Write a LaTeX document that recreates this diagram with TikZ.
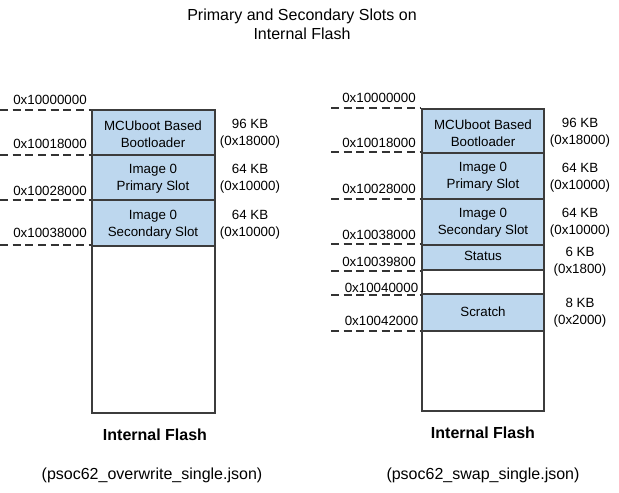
\documentclass[tikz,border=0pt]{standalone}
\usepackage{fontspec}
\setmainfont{Liberation Sans}
\definecolor{slotblue}{RGB}{189,215,238}
\definecolor{edgegray}{RGB}{60,60,60}
\begin{document}
\begin{tikzpicture}[x=0.75pt,y=-0.75pt,
  small/.style={font=\fontsize{10}{12.75}\selectfont, inner sep=0pt, align=center, text=black},
  large/.style={font=\fontsize{12}{14.25}\selectfont, inner sep=0pt, align=center, text=black},
  heading/.style={large, font=\fontsize{12}{14.25}\selectfont\bfseries},
  slot/.style={draw=edgegray, fill=slotblue, line width=0.9pt},
  freearea/.style={draw=edgegray, fill=white, line width=0.9pt},
  boundary/.style={draw=black!80, line width=1.1pt, dash pattern=on 6pt off 3.5pt}
]
\useasboundingbox (0,0) rectangle (619,493);

% title
\node[large] (title) at (302,24) {Primary and Secondary Slots on\\Internal Flash};

% ---------- overwrite layout ----------
\draw[slot] (92,110) rectangle (215,155);
\draw[slot] (92,155) rectangle (215,200);
\draw[slot] (92,200) rectangle (215,246);
\draw[freearea] (92,246) rectangle (215,413);

\foreach \y in {110,155,200,245}
  \draw[boundary] (0,\y) -- (91,\y);

\node[small] (la0) at (50,99.5)  {0x10000000};
\node[small] (la1) at (50,143.5) {0x10018000};
\node[small] (la2) at (50,190.5) {0x10028000};
\node[small] (la3) at (50,232.5) {0x10038000};

\node[small] (lboot) at (153,134) {MCUboot Based\\Bootloader};
\node[small] (lprim) at (153,179) {Image 0\\Primary Slot};
\node[small] (lsec)  at (153,225) {Image 0\\Secondary Slot};

\node[small] (ls0) at (250,134) {96 KB\\(0x18000)};
\node[small] (ls1) at (250,179) {64 KB\\(0x10000)};
\node[small] (ls2) at (250,225) {64 KB\\(0x10000)};

\node[heading] (lflash) at (155,435) {Internal Flash};
\node[large] (ljson) at (152,475) {(psoc62\_overwrite\_single.json)};

% ---------- swap layout ----------
\draw[slot] (422,109) rectangle (544,153);
\draw[slot] (422,153) rectangle (544,199);
\draw[slot] (422,199) rectangle (544,245);
\draw[slot] (422,245) rectangle (544,270);
\draw[freearea] (422,270) rectangle (544,294);
\draw[slot] (422,294) rectangle (544,331);
\draw[freearea] (422,331) rectangle (544,411);

\foreach \y in {108,152,199,244,271,295,331}
  \draw[boundary] (331,\y) -- (421,\y);

\node[small] (ra0) at (379,97.5)  {0x10000000};
\node[small] (ra1) at (379,142.5) {0x10018000};
\node[small] (ra2) at (379,188.5) {0x10028000};
\node[small] (ra3) at (379,234.5) {0x10038000};
\node[small] (ra4) at (379,261.5) {0x10039800};
\node[small] (ra5) at (381.5,287.5) {0x10040000};
\node[small] (ra6) at (381.5,320.5) {0x10042000};

\node[small] (rboot)    at (483,133) {MCUboot Based\\Bootloader};
\node[small] (rprim)    at (483,177) {Image 0\\Primary Slot};
\node[small] (rsec)     at (483,222.5) {Image 0\\Secondary Slot};
\node[small] (rstatus)  at (483,255.5) {Status};
\node[small] (rscratch) at (483,311.5) {Scratch};

\node[small] (rs0) at (580,133)   {96 KB\\(0x18000)};
\node[small] (rs1) at (580,177.5) {64 KB\\(0x10000)};
\node[small] (rs2) at (580,222.5) {64 KB\\(0x10000)};
\node[small] (rs3) at (580,261.5) {6 KB\\(0x1800)};
\node[small] (rs4) at (580,312.5) {8 KB\\(0x2000)};

\node[heading] (rflash) at (483,433) {Internal Flash};
\node[large] (rjson) at (483,475) {(psoc62\_swap\_single.json)};
\end{tikzpicture}
\end{document}
